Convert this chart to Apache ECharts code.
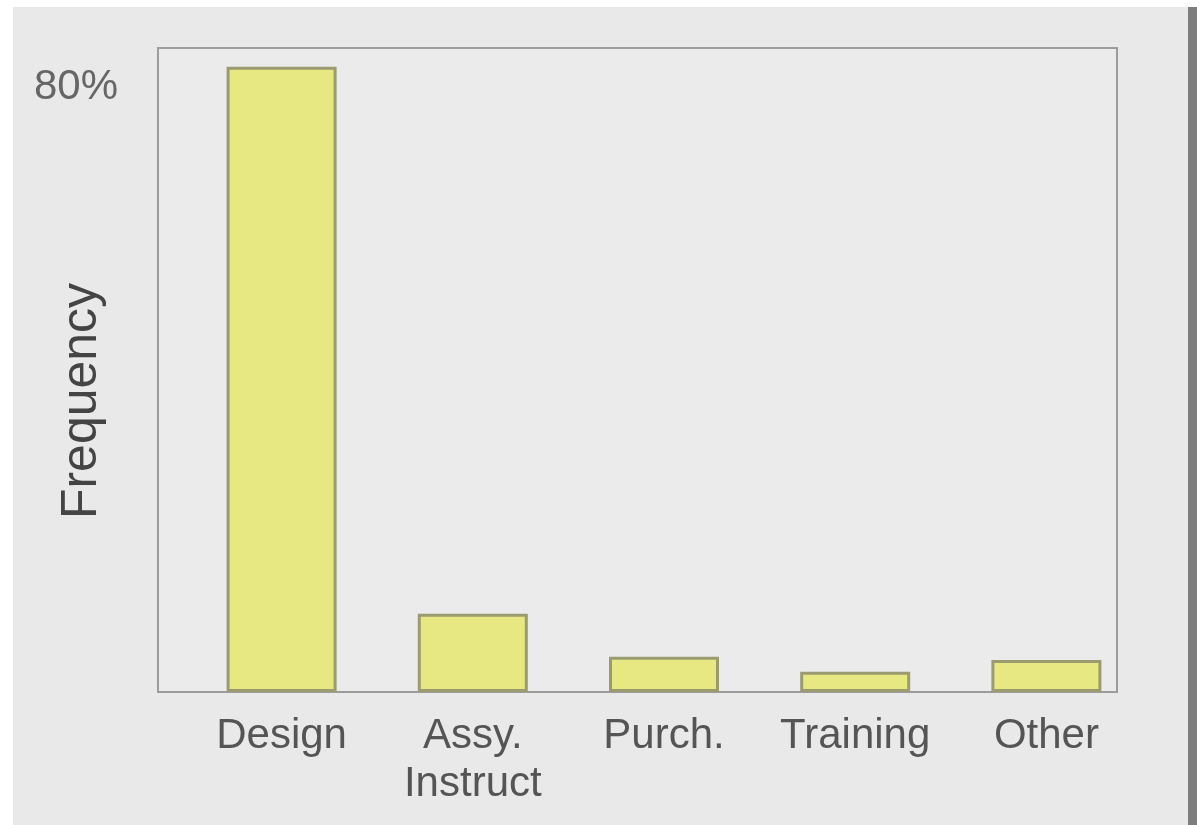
<!DOCTYPE html>
<html>
<head>
<meta charset="utf-8">
<script src="https://cdn.jsdelivr.net/npm/echarts@6/dist/echarts.min.js"></script>
<style>
html,body{margin:0;padding:0;background:#ffffff;}
#chart{width:1197px;height:825px;}
</style>
</head>
<body>
<div id="chart"></div>
<script>
// Data
var categories = ['Design', 'Assy.\nInstruct', 'Purch.', 'Training', 'Other'];
var frequencyPct = [80, 10, 4.5, 2.6, 4.1];
var yTickLabels = {80: '80%'};
var yAxisTitle = 'Frequency';

var Y_MAX = 82.4;
var chart = echarts.init(document.getElementById('chart'), null, {renderer: 'canvas'});
var font = 'Liberation Sans, Arial, sans-serif';

chart.setOption({
  animation: false,
  backgroundColor: '#ffffff',
  graphic: [
    {type: 'rect', z: -10, shape: {x: 13, y: 7, width: 1175, height: 818}, style: {fill: '#e9e9e9'}},
    {type: 'rect', z: -10, shape: {x: 1188, y: 7, width: 9, height: 818}, style: {fill: '#7e7e7e'}}
  ],
  grid: [
    {left: 158, right: 80, top: 48, bottom: 133, show: true, borderColor: '#9c9c9c', borderWidth: 2,
     backgroundColor: '#ebebeb', containLabel: false, outerBoundsMode: 'none'},
    {left: 186, right: 55, top: 48, bottom: 133, containLabel: false, outerBoundsMode: 'none'}
  ],
  xAxis: [
    {gridIndex: 0, type: 'category', data: categories, show: false},
    {gridIndex: 1, type: 'category', data: categories,
     axisLine: {show: false}, axisTick: {show: false},
     axisLabel: {color: '#555555', fontFamily: font, fontSize: 42, lineHeight: 48, margin: 20, interval: 0}}
  ],
  yAxis: [
    {gridIndex: 0, type: 'value', min: 0, max: Y_MAX, interval: 80,
     axisLine: {show: false}, axisTick: {show: false}, splitLine: {show: false},
     axisLabel: {color: '#666666', fontFamily: font, fontSize: 42, margin: 40, verticalAlign: 'top',
       formatter: function (v) { return yTickLabels[v] || ''; }}},
    {gridIndex: 1, type: 'value', min: 0, max: Y_MAX, interval: 80,
     name: yAxisTitle, nameLocation: 'middle', nameGap: 79,
     nameTextStyle: {color: '#444444', fontFamily: font, fontSize: 50, padding: [0, 62, 0, 0]},
     axisLine: {show: false}, axisTick: {show: false}, splitLine: {show: false},
     axisLabel: {show: false}}
  ],
  series: [{
    type: 'bar',
    xAxisIndex: 1, yAxisIndex: 1,
    data: frequencyPct,
    barWidth: 110,
    itemStyle: {color: '#e8e883', borderColor: '#9b9b70', borderWidth: 3},
    z: 5
  }]
});
</script>
</body>
</html>
